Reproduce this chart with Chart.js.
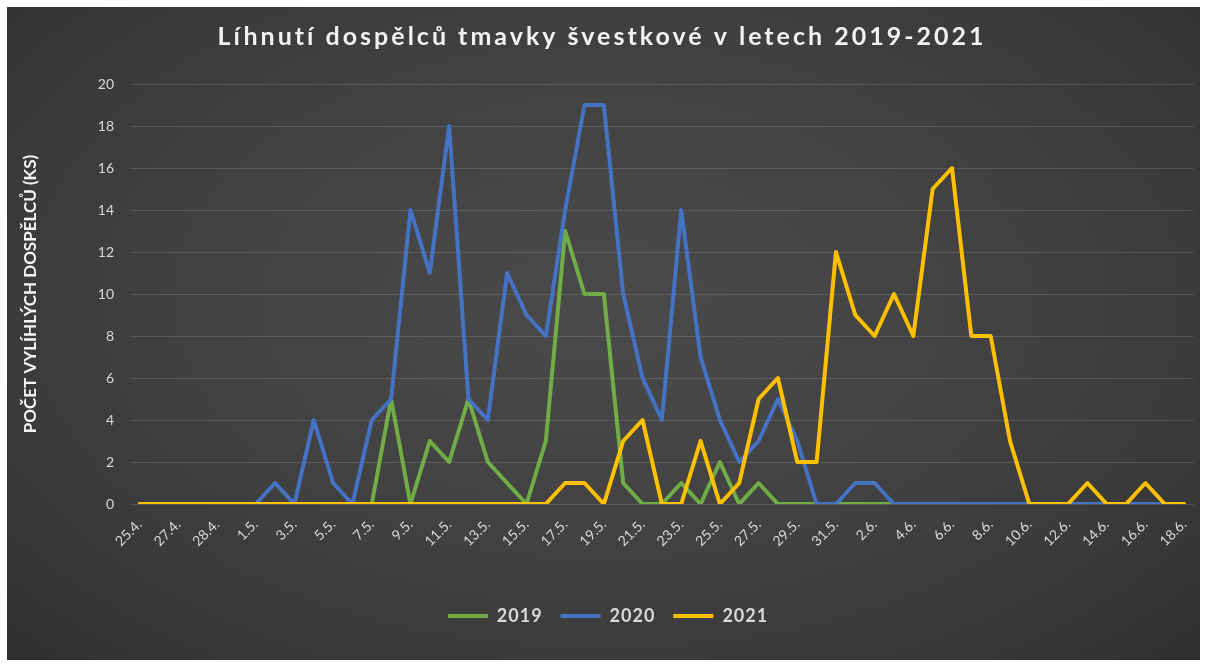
<!DOCTYPE html>
<html>
<head>
<meta charset="utf-8">
<script src="https://cdn.jsdelivr.net/npm/chart.js@4"></script>
<style>
    html, body { margin: 0; padding: 0; background: #ffffff; }
    #box {
        position: absolute; left: 7px; top: 7px; width: 1193px; height: 653px;
        background: radial-gradient(ellipse at 50% 45%, #4a4a4a 0%, #424242 45%, #383838 80%, #2f2f2f 100%);
    }
    canvas { display: block; }
</style>
</head>
<body>
<div id="box"><canvas id="chart" width="1193" height="653"></canvas></div>
<script>
// Dates (only every other one is printed on the axis)
const labels = [
    '25.4.', '26.4.', '27.4.', '27.4.', '28.4.', '30.4.',
    '1.5.', '2.5.', '3.5.', '4.5.', '5.5.', '6.5.', '7.5.', '8.5.', '9.5.', '10.5.',
    '11.5.', '12.5.', '13.5.', '14.5.', '15.5.', '16.5.', '17.5.', '18.5.', '19.5.', '20.5.',
    '21.5.', '22.5.', '23.5.', '24.5.', '25.5.', '26.5.', '27.5.', '28.5.', '29.5.', '30.5.', '31.5.',
    '1.6.', '2.6.', '3.6.', '4.6.', '5.6.', '6.6.', '7.6.', '8.6.', '9.6.', '10.6.',
    '11.6.', '12.6.', '13.6.', '14.6.', '15.6.', '16.6.', '17.6.', '18.6.'
];

const data2019 = [
    null, null, null, null, null, null, null, null, null, null, null, null,
    0, 5, 0, 3, 2, 5, 2, 1, 0, 3, 13, 10, 10, 1, 0, 0, 1, 0, 2, 0, 1, 0,
    0, 0, 0, 0, 0, 0, 0,
    null, null, null, null, null, null, null, null, null, null, null, null, null, null
];

const data2020 = [
    null, null, null, null, null, null,
    0, 1, 0, 4, 1, 0, 4, 5, 14, 11, 18, 5, 4, 11, 9, 8, 14, 19, 19, 10, 6, 4, 14, 7, 4, 2, 3, 5, 3,
    0, 0, 1, 1, 0, 0, 0, 0, 0, 0, 0, 0, 0, 0, 0, 0, 0, 0, 0, null
];

const data2021 = [
    0, 0, 0, 0, 0, 0, 0, 0, 0, 0, 0, 0, 0, 0, 0, 0, 0, 0, 0, 0, 0, 0,
    1, 1, 0, 3, 4, 0, 0, 3, 0, 1, 5, 6, 2, 2, 12, 9, 8, 10, 8, 15, 16, 8, 8, 3,
    0, 0, 0, 1, 0, 0, 1, 0, 0
];

const yTicks = [0, 2, 4, 6, 8, 10, 12, 14, 16, 18, 20];

const FONT = "Lato, 'Open Sans', sans-serif";
const TEXT = '#d9d9d9';

const series = [
    { label: '2019', data: data2019, color: '#70ad47', order: 2 },
    { label: '2020', data: data2020, color: '#4472c4', order: 1 },
    { label: '2021', data: data2021, color: '#ffc000', order: 0 }
];

// Excel spaces its letters a little wider than canvas does
const spacingPlugin = {
    id: 'letterSpacing',
    afterLayout(chart) {
        chart.boxes.forEach(box => {
            if (box._spaced) return;
            let sp = '1px';
            if (box === chart.titleBlock) sp = '3px';
            const draw = box.draw.bind(box);
            box.draw = function(area) {
                chart.ctx.save();
                chart.ctx.letterSpacing = sp;
                draw(area);
                chart.ctx.restore();
            };
            box._spaced = true;
        });
    }
};

const ctx = document.getElementById('chart').getContext('2d');

new Chart(ctx, {
    type: 'line',
    data: {
        labels: labels,
        datasets: series.map(s => ({
            label: s.label,
            data: s.data,
            borderColor: s.color,
            backgroundColor: s.color,
            borderWidth: 4,
            borderJoinStyle: 'round',
            borderCapStyle: 'round',
            pointRadius: 0,
            tension: 0,
            order: s.order
        }))
    },
    options: {
        responsive: false,
        animation: false,
        layout: { padding: { left: 0, right: 3, top: 0, bottom: 25 } },
        plugins: {
            title: {
                display: true,
                text: 'Líhnutí dospělců tmavky švestkové v letech 2019-2021',
                color: '#f2f2f2',
                font: { family: FONT, size: 25, weight: 'bold' },
                padding: { top: 15, bottom: 32 }
            },
            legend: {
                display: true,
                position: 'bottom',
                labels: {
                    color: TEXT,
                    font: { family: FONT, size: 18, weight: 'bold' },
                    boxWidth: 40,
                    boxHeight: 4,
                    padding: 18,
                    generateLabels: function(chart) {
                        const items = Chart.defaults.plugins.legend.labels.generateLabels(chart);
                        items.forEach(it => {
                            it.lineWidth = 0;
                            it.fillStyle = it.strokeStyle;
                        });
                        items.sort((a, b) => a.datasetIndex - b.datasetIndex);
                        return items;
                    }
                }
            },
            tooltip: { enabled: false }
        },
        scales: {
            x: {
                offset: true,
                grid: { display: false },
                border: { display: false },
                ticks: {
                    color: TEXT,
                    font: { family: FONT, size: 14 },
                    autoSkip: false,
                    minRotation: 45,
                    maxRotation: 45,
                    padding: 4,
                    callback: function(value, index) {
                        return index % 2 === 0 ? labels[index] : '';
                    }
                },
                afterFit: function(scale) {
                    scale.height = 85;
                }
            },
            y: {
                min: 0,
                max: 20,
                grid: {
                    color: 'rgba(255, 255, 255, 0.13)',
                    lineWidth: 1,
                    drawTicks: false
                },
                border: { display: false },
                afterBuildTicks: function(scale) {
                    scale.ticks = yTicks.map(v => ({ value: v }));
                },
                ticks: {
                    color: TEXT,
                    font: { family: FONT, size: 14 },
                    padding: 16
                },
                title: {
                    display: true,
                    text: 'POČET VYLÍHLÝCH DOSPĚLCŮ (KS)',
                    color: '#f2f2f2',
                    font: { family: FONT, size: 17, weight: 'bold' },
                    padding: { top: 13, bottom: 0 }
                },
                afterFit: function(scale) {
                    scale.width = 123;
                }
            }
        }
    },
    plugins: [spacingPlugin]
});
</script>
</body>
</html>
